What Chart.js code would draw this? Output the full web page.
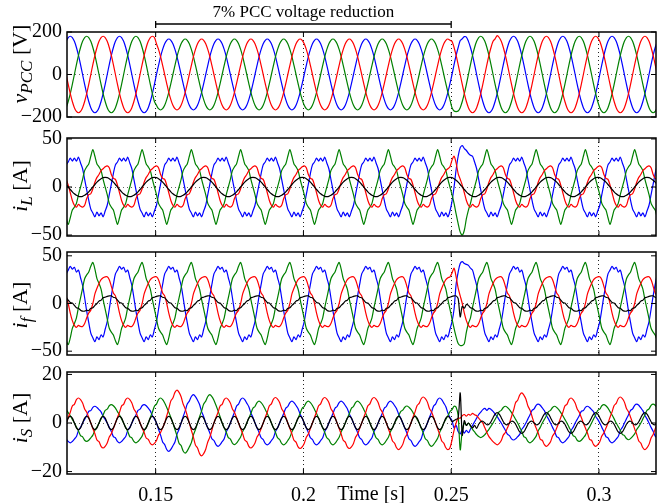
<!DOCTYPE html>
<html>
<head>
<meta charset="utf-8">
<script src="https://cdn.jsdelivr.net/npm/chart.js@4/dist/chart.umd.min.js"></script>
<style>
html, body { margin: 0; padding: 0; background: #fff; }
body { width: 657px; height: 503px; position: relative; overflow: hidden;
       font-family: 'Liberation Serif', 'Times New Roman', serif; color: #000; }
.panel { position: absolute; left: 0; width: 657px; }
.ylab { position: absolute; font-size: 22px; white-space: nowrap;
        transform: translate(-50%, -50%) rotate(-90deg); }
.ylab sub { font-size: 17px; font-style: italic; vertical-align: -5px; }
.xlab { position: absolute; font-size: 20px; white-space: nowrap; transform: translate(-50%, -50%); }
</style>
</head>
<body>
<div class="panel" style="top:0px;height:131px"><canvas id="p1"></canvas></div>
<div class="panel" style="top:124px;height:126px"><canvas id="p2"></canvas></div>
<div class="panel" style="top:238px;height:131px"><canvas id="p3"></canvas></div>
<div class="panel" style="top:358px;height:145px"><canvas id="p4"></canvas></div>

<div class="ylab" style="left:22px;top:64px"><i>v</i><sub>PCC</sub> [V]</div>
<div class="ylab" style="left:22px;top:186px"><i>i</i><sub>L</sub> [A]</div>
<div class="ylab" style="left:22px;top:305px"><i>i</i><sub>f</sub> [A]</div>
<div class="ylab" style="left:22px;top:418px"><i>i</i><sub>S</sub> [A]</div>
<div class="xlab" style="left:371px;top:493px">Time [s]</div>

<script>
// sampling of the traces: 24 samples per 60 Hz cycle
const SAMPLE_RATE = 1440;
const T_START = 0.11972;

// PCC voltages [V] (blue, green, red)
const vpccA = [
156,174,180,174,156,127,90,47,0,-47,-90,-127,-156,-174,-180,-174,-156,-127,-90,-47,0,47,90,127,
156,174,180,174,156,127,90,47,0,-47,-90,-127,-156,-174,-180,-174,-156,-127,-90,-47,0,43,84,118,
145,161,167,161,145,118,84,43,0,-43,-84,-118,-145,-161,-167,-161,-145,-118,-84,-43,0,43,84,118,
145,161,167,161,145,118,84,43,0,-43,-84,-118,-145,-161,-167,-161,-145,-118,-84,-43,0,43,84,118,
145,161,167,161,145,118,84,43,0,-43,-84,-118,-145,-161,-167,-161,-145,-118,-84,-43,0,43,84,118,
145,161,167,161,145,118,84,43,0,-43,-84,-118,-145,-161,-167,-161,-145,-118,-84,-43,0,43,84,118,
145,161,167,161,145,118,84,43,0,-43,-84,-118,-145,-161,-167,-161,-145,-118,-84,-43,0,43,84,118,
145,161,167,161,145,118,84,43,0,-43,-84,-118,-145,-161,-167,-161,-145,-118,-84,-43,0,47,90,127,
160,168,178,176,156,127,90,47,0,-47,-90,-127,-156,-174,-180,-174,-156,-127,-90,-47,0,47,90,127,
156,174,180,174,156,127,90,47,0,-47,-90,-127,-156,-174,-180,-174,-156,-127,-90,-47,0,47,90,127,
156,174,180,174,156,127,90,47,0,-47,-90,-127,-156,-174,-180,-174,-156,-127,-90,-47,0,47,90,127,
156,174,180,174,156,127,90,47,0,-47,-90,-127,-156,-174,-180,-174,-156,-127,-90,-47,0,47,90,127,
156];
const vpccB = [
-156,-127,-90,-47,0,47,90,127,156,174,180,174,156,127,90,47,0,-47,-90,-127,-156,-174,-180,-174,
-156,-127,-90,-47,0,47,90,127,156,174,180,174,156,127,90,47,0,-47,-90,-127,-145,-161,-167,-161,
-145,-118,-84,-43,0,43,84,118,145,161,167,161,145,118,84,43,0,-43,-84,-118,-145,-161,-167,-161,
-145,-118,-84,-43,0,43,84,118,145,161,167,161,145,118,84,43,0,-43,-84,-118,-145,-161,-167,-161,
-145,-118,-84,-43,0,43,84,118,145,161,167,161,145,118,84,43,0,-43,-84,-118,-145,-161,-167,-161,
-145,-118,-84,-43,0,43,84,118,145,161,167,161,145,118,84,43,0,-43,-84,-118,-145,-161,-167,-161,
-145,-118,-84,-43,0,43,84,118,145,161,167,161,145,118,84,43,0,-43,-84,-118,-145,-161,-167,-161,
-145,-118,-84,-43,0,43,84,118,145,161,167,161,145,118,84,43,0,-43,-84,-118,-156,-172,-175,-172,
-156,-127,-90,-47,0,47,90,127,156,174,180,174,156,127,90,47,0,-47,-90,-127,-156,-174,-180,-174,
-156,-127,-90,-47,0,47,90,127,156,174,180,174,156,127,90,47,0,-47,-90,-127,-156,-174,-180,-174,
-156,-127,-90,-47,0,47,90,127,156,174,180,174,156,127,90,47,0,-47,-90,-127,-156,-174,-180,-174,
-156,-127,-90,-47,0,47,90,127,156,174,180,174,156,127,90,47,0,-47,-90,-127,-156,-174,-180,-174,
-156];
const vpccC = [
0,-47,-90,-127,-156,-174,-180,-174,-156,-127,-90,-47,0,47,90,127,156,174,180,174,156,127,90,47,
0,-47,-90,-127,-156,-174,-180,-174,-156,-127,-90,-47,0,47,90,127,156,174,180,174,145,118,84,43,
0,-43,-84,-118,-145,-161,-167,-161,-145,-118,-84,-43,0,43,84,118,145,161,167,161,145,118,84,43,
0,-43,-84,-118,-145,-161,-167,-161,-145,-118,-84,-43,0,43,84,118,145,161,167,161,145,118,84,43,
0,-43,-84,-118,-145,-161,-167,-161,-145,-118,-84,-43,0,43,84,118,145,161,167,161,145,118,84,43,
0,-43,-84,-118,-145,-161,-167,-161,-145,-118,-84,-43,0,43,84,118,145,161,167,161,145,118,84,43,
0,-43,-84,-118,-145,-161,-167,-161,-145,-118,-84,-43,0,43,84,118,145,161,167,161,145,118,84,43,
0,-43,-84,-118,-145,-161,-167,-161,-145,-118,-84,-43,0,43,84,118,145,161,167,161,156,127,90,47,
0,-47,-90,-127,-156,-174,-180,-174,-156,-127,-90,-47,0,47,90,127,156,168,183,174,156,127,90,47,
0,-47,-90,-127,-156,-174,-180,-174,-156,-127,-90,-47,0,47,90,127,156,174,180,174,156,127,90,47,
0,-47,-90,-127,-156,-174,-180,-174,-156,-127,-90,-47,0,47,90,127,156,174,180,174,156,127,90,47,
0,-47,-90,-127,-156,-174,-180,-174,-156,-127,-90,-47,0,47,90,127,156,174,180,174,156,127,90,47,
0];

// load currents [A] (blue, green, red, black)
const iLoadA = [
23,26,30,27,30,27,31,25,19,8,-3,-14,-23,-27,-31,-26,-30,-27,-31,-25,-19,-8,3,14,
23,26,30,27,30,27,31,25,19,8,-3,-14,-23,-27,-31,-26,-30,-27,-31,-25,-19,-8,3,14,
23,26,30,27,30,27,31,25,19,8,-3,-14,-23,-27,-31,-26,-30,-27,-31,-25,-19,-8,3,14,
23,26,30,27,30,27,31,25,19,8,-3,-14,-23,-27,-31,-26,-30,-27,-31,-25,-19,-8,3,14,
23,26,30,27,30,27,31,25,19,8,-3,-14,-23,-27,-31,-26,-30,-27,-31,-25,-19,-8,3,14,
23,26,30,27,30,27,31,25,19,8,-3,-14,-23,-27,-31,-26,-30,-27,-31,-25,-19,-8,3,14,
23,26,30,27,30,27,31,25,19,8,-3,-14,-23,-27,-31,-26,-30,-27,-31,-25,-19,-8,3,14,
23,26,30,27,30,27,31,25,19,8,-3,-14,-23,-27,-31,-26,-30,-27,-31,-25,-15,0,18,32,
41,43,40,38,35,33,32,26,19,8,-3,-14,-23,-27,-31,-26,-30,-27,-31,-25,-19,-8,3,14,
23,26,30,27,30,27,31,25,19,8,-3,-14,-23,-27,-31,-26,-30,-27,-31,-25,-19,-8,3,14,
23,26,30,27,30,27,31,25,19,8,-3,-14,-23,-27,-31,-26,-30,-27,-31,-25,-19,-8,3,14,
23,26,30,27,30,27,31,25,19,8,-3,-14,-23,-27,-31,-26,-30,-27,-31,-25,-19,-8,3,14,
23];
const iLoadB = [
-32,-39,-32,-24,-21,-17,-8,0,8,17,21,24,32,39,32,24,21,17,8,0,-8,-17,-21,-24,
-32,-39,-32,-24,-21,-17,-8,0,8,17,21,24,32,39,32,24,21,17,8,0,-8,-17,-21,-24,
-32,-39,-32,-24,-21,-17,-8,0,8,17,21,24,32,39,32,24,21,17,8,0,-8,-17,-21,-24,
-32,-39,-32,-24,-21,-17,-8,0,8,17,21,24,32,39,32,24,21,17,8,0,-8,-17,-21,-24,
-32,-39,-32,-24,-21,-17,-8,0,8,17,21,24,32,39,32,24,21,17,8,0,-8,-17,-21,-24,
-32,-39,-32,-24,-21,-17,-8,0,8,17,21,24,32,39,32,24,21,17,8,0,-8,-17,-21,-24,
-32,-39,-32,-24,-21,-17,-8,0,8,17,21,24,32,39,32,24,21,17,8,0,-8,-17,-21,-24,
-32,-39,-32,-24,-21,-17,-8,0,8,17,21,24,32,39,32,24,21,17,8,0,-8,-17,-28,-38,
-47,-50,-45,-33,-24,-17,-8,0,8,17,21,24,32,39,32,24,21,17,8,0,-8,-17,-21,-24,
-32,-39,-32,-24,-21,-17,-8,0,8,17,21,24,32,39,32,24,21,17,8,0,-8,-17,-21,-24,
-32,-39,-32,-24,-21,-17,-8,0,8,17,21,24,32,39,32,24,21,17,8,0,-8,-17,-21,-24,
-32,-39,-32,-24,-21,-17,-8,0,8,17,21,24,32,39,32,24,21,17,8,0,-8,-17,-21,-24,
-32];
const iLoadC = [
8,2,-6,-14,-19,-21,-18,-20,-21,-19,-12,-8,-7,-2,5,10,13,17,19,21,22,20,13,9,
8,2,-6,-14,-19,-21,-18,-20,-21,-19,-12,-8,-7,-2,5,10,13,17,19,21,22,20,13,9,
8,2,-6,-14,-19,-21,-18,-20,-21,-19,-12,-8,-7,-2,5,10,13,17,19,21,22,20,13,9,
8,2,-6,-14,-19,-21,-18,-20,-21,-19,-12,-8,-7,-2,5,10,13,17,19,21,22,20,13,9,
8,2,-6,-14,-19,-21,-18,-20,-21,-19,-12,-8,-7,-2,5,10,13,17,19,21,22,20,13,9,
8,2,-6,-14,-19,-21,-18,-20,-21,-19,-12,-8,-7,-2,5,10,13,17,19,21,22,20,13,9,
8,2,-6,-14,-19,-21,-18,-20,-21,-19,-12,-8,-7,-2,5,10,13,17,19,21,22,20,13,9,
8,2,-6,-14,-19,-21,-18,-20,-21,-19,-12,-8,-7,-2,5,10,13,17,19,21,28,32,25,14,
8,2,-6,-14,-19,-21,-18,-20,-21,-19,-12,-8,-7,-2,5,10,13,17,19,21,22,20,13,9,
8,2,-6,-14,-19,-21,-18,-20,-21,-19,-12,-8,-7,-2,5,10,13,17,19,21,22,20,13,9,
8,2,-6,-14,-19,-21,-18,-20,-21,-19,-12,-8,-7,-2,5,10,13,17,19,21,22,20,13,9,
8,2,-6,-14,-19,-21,-18,-20,-21,-19,-12,-8,-7,-2,5,10,13,17,19,21,22,20,13,9,
8];
const iLoadN = [
2.6,0,-2.6,-5,-7.1,-8.7,-9.7,-10,-9.7,-8.7,-7.1,-5,-2.6,0,2.6,5,7.1,8.7,9.7,10,9.7,8.7,7.1,5,
2.6,0,-2.6,-5,-7.1,-8.7,-9.7,-10,-9.7,-8.7,-7.1,-5,-2.6,0,2.6,5,7.1,8.7,9.7,10,9.7,8.7,7.1,5,
2.6,0,-2.6,-5,-7.1,-8.7,-9.7,-10,-9.7,-8.7,-7.1,-5,-2.6,0,2.6,5,7.1,8.7,9.7,10,9.7,8.7,7.1,5,
2.6,0,-2.6,-5,-7.1,-8.7,-9.7,-10,-9.7,-8.7,-7.1,-5,-2.6,0,2.6,5,7.1,8.7,9.7,10,9.7,8.7,7.1,5,
2.6,0,-2.6,-5,-7.1,-8.7,-9.7,-10,-9.7,-8.7,-7.1,-5,-2.6,0,2.6,5,7.1,8.7,9.7,10,9.7,8.7,7.1,5,
2.6,0,-2.6,-5,-7.1,-8.7,-9.7,-10,-9.7,-8.7,-7.1,-5,-2.6,0,2.6,5,7.1,8.7,9.7,10,9.7,8.7,7.1,5,
2.6,0,-2.6,-5,-7.1,-8.7,-9.7,-10,-9.7,-8.7,-7.1,-5,-2.6,0,2.6,5,7.1,8.7,9.7,10,9.7,8.7,7.1,5,
2.6,0,-2.6,-5,-7.1,-8.7,-9.7,-10,-9.7,-8.7,-7.1,-5,-2.6,0,2.6,5,7.1,8.7,9.7,10,9.7,8.7,7.1,5,
2.6,0,-2.6,-5,-7.1,-8.7,-9.7,-10,-9.7,-8.7,-7.1,-5,-2.6,0,2.6,5,7.1,8.7,9.7,10,9.7,8.7,7.1,5,
2.6,0,-2.6,-5,-7.1,-8.7,-9.7,-10,-9.7,-8.7,-7.1,-5,-2.6,0,2.6,5,7.1,8.7,9.7,10,9.7,8.7,7.1,5,
2.6,0,-2.6,-5,-7.1,-8.7,-9.7,-10,-9.7,-8.7,-7.1,-5,-2.6,0,2.6,5,7.1,8.7,9.7,10,9.7,8.7,7.1,5,
2.6,0,-2.6,-5,-7.1,-8.7,-9.7,-10,-9.7,-8.7,-7.1,-5,-2.6,0,2.6,5,7.1,8.7,9.7,10,9.7,8.7,7.1,5,
2.6];

// filter currents [A]
const iFiltA = [
31,35,39,36,38,33,35,27,19,6,-8,-20,-31,-36,-40,-35,-38,-33,-35,-27,-19,-6,8,20,
31,35,39,36,38,33,35,27,19,6,-8,-20,-31,-36,-40,-35,-38,-33,-35,-27,-19,-6,8,20,
31,35,39,36,38,33,35,27,19,6,-8,-20,-31,-36,-40,-35,-38,-33,-35,-27,-19,-6,8,20,
31,35,39,36,38,33,35,27,19,6,-8,-20,-31,-36,-40,-35,-38,-33,-35,-27,-19,-6,8,20,
31,35,39,36,38,33,35,27,19,6,-8,-20,-31,-36,-40,-35,-38,-33,-35,-27,-19,-6,8,20,
31,35,39,36,38,33,35,27,19,6,-8,-20,-31,-36,-40,-35,-38,-33,-35,-27,-19,-6,8,20,
31,35,39,36,38,33,35,27,19,6,-8,-20,-31,-36,-40,-35,-38,-33,-35,-27,-19,-6,8,20,
31,35,39,36,38,33,35,27,19,6,-8,-20,-31,-36,-40,-35,-38,-33,-35,-27,-19,-6,20,33,
42,44,42,41,40,37,35,27,19,6,-8,-20,-31,-36,-40,-35,-38,-33,-35,-27,-19,-6,8,20,
31,35,39,36,38,33,35,27,19,6,-8,-20,-31,-36,-40,-35,-38,-33,-35,-27,-19,-6,8,20,
31,35,39,36,38,33,35,27,19,6,-8,-20,-31,-36,-40,-35,-38,-33,-35,-27,-19,-6,8,20,
31,35,39,36,38,33,35,27,19,6,-8,-20,-31,-36,-40,-35,-38,-33,-35,-27,-19,-6,8,20,
31];
const iFiltB = [
-39,-43,-36,-26,-21,-15,-4,6,16,26,30,33,39,43,36,26,21,15,4,-6,-16,-26,-30,-33,
-39,-43,-36,-26,-21,-15,-4,6,16,26,30,33,39,43,36,26,21,15,4,-6,-16,-26,-30,-33,
-39,-43,-36,-26,-21,-15,-4,6,16,26,30,33,39,43,36,26,21,15,4,-6,-16,-26,-30,-33,
-39,-43,-36,-26,-21,-15,-4,6,16,26,30,33,39,43,36,26,21,15,4,-6,-16,-26,-30,-33,
-39,-43,-36,-26,-21,-15,-4,6,16,26,30,33,39,43,36,26,21,15,4,-6,-16,-26,-30,-33,
-39,-43,-36,-26,-21,-15,-4,6,16,26,30,33,39,43,36,26,21,15,4,-6,-16,-26,-30,-33,
-39,-43,-36,-26,-21,-15,-4,6,16,26,30,33,39,43,36,26,21,15,4,-6,-16,-26,-30,-33,
-39,-43,-36,-26,-21,-15,-4,6,16,26,30,33,39,43,36,26,21,15,4,-6,-16,-26,-35,-42,
-44,-44,-42,-30,-21,-15,-4,6,16,26,30,33,39,43,36,26,21,15,4,-6,-16,-26,-30,-33,
-39,-43,-36,-26,-21,-15,-4,6,16,26,30,33,39,43,36,26,21,15,4,-6,-16,-26,-30,-33,
-39,-43,-36,-26,-21,-15,-4,6,16,26,30,33,39,43,36,26,21,15,4,-6,-16,-26,-30,-33,
-39,-43,-36,-26,-21,-15,-4,6,16,26,30,33,39,43,36,26,21,15,4,-6,-16,-26,-30,-33,
-39];
const iFiltC = [
8,0,-10,-18,-23,-25,-23,-24,-24,-21,-15,-10,-7,0,10,16,21,25,27,28,28,25,18,11,
8,0,-10,-18,-23,-25,-23,-24,-24,-21,-15,-10,-7,0,10,16,21,25,27,28,28,25,18,11,
8,0,-10,-18,-23,-25,-23,-24,-24,-21,-15,-10,-7,0,10,16,21,25,27,28,28,25,18,11,
8,0,-10,-18,-23,-25,-23,-24,-24,-21,-15,-10,-7,0,10,16,21,25,27,28,28,25,18,11,
8,0,-10,-18,-23,-25,-23,-24,-24,-21,-15,-10,-7,0,10,16,21,25,27,28,28,25,18,11,
8,0,-10,-18,-23,-25,-23,-24,-24,-21,-15,-10,-7,0,10,16,21,25,27,28,28,25,18,11,
8,0,-10,-18,-23,-25,-23,-24,-24,-21,-15,-10,-7,0,10,16,21,25,27,28,28,25,18,11,
8,0,-10,-18,-23,-25,-23,-24,-24,-21,-15,-10,-7,0,10,16,21,25,27,28,32,37,28,16,
8,0,-10,-18,-23,-25,-23,-24,-24,-21,-15,-10,-7,0,10,16,21,25,27,28,28,25,18,11,
8,0,-10,-18,-23,-25,-23,-24,-24,-21,-15,-10,-7,0,10,16,21,25,27,28,28,25,18,11,
8,0,-10,-18,-23,-25,-23,-24,-24,-21,-15,-10,-7,0,10,16,21,25,27,28,28,25,18,11,
8,0,-10,-18,-23,-25,-23,-24,-24,-21,-15,-10,-7,0,10,16,21,25,27,28,28,25,18,11,
8];
const iFiltN = [
6,3.5,1,0.5,-2,-4.5,-5,-7,-8,-8,-7,-7.5,-5,-4.5,-2,0,2.5,3.5,6,6.5,7.5,8,8,6.5,
6,3.5,1,0.5,-2,-4.5,-5,-7,-8,-8,-7,-7.5,-5,-4.5,-2,0,2.5,3.5,6,6.5,7.5,8,8,6.5,
6,3.5,1,0.5,-2,-4.5,-5,-7,-8,-8,-7,-7.5,-5,-4.5,-2,0,2.5,3.5,6,6.5,7.5,8,8,6.5,
6,3.5,1,0.5,-2,-4.5,-5,-7,-8,-8,-7,-7.5,-5,-4.5,-2,0,2.5,3.5,6,6.5,7.5,8,8,6.5,
6,3.5,1,0.5,-2,-4.5,-5,-7,-8,-8,-7,-7.5,-5,-4.5,-2,0,2.5,3.5,6,6.5,7.5,8,8,6.5,
6,3.5,1,0.5,-2,-4.5,-5,-7,-8,-8,-7,-7.5,-5,-4.5,-2,0,2.5,3.5,6,6.5,7.5,8,8,6.5,
6,3.5,1,0.5,-2,-4.5,-5,-7,-8,-8,-7,-7.5,-5,-4.5,-2,0,2.5,3.5,6,6.5,7.5,8,8,6.5,
6,3.5,1,0.5,-2,-4.5,-5,-7,-8,-8,-7,-7.5,-5,-4.5,-2,0,2.5,3.5,6,6.5,7.5,8,8,5,
-14,-3,-5,-1,-2,-4.5,-5,-7,-8,-8,-7,-7.5,-5,-4.5,-2,0,2.5,3.5,6,6.5,7.5,8,8,6.5,
6,3.5,1,0.5,-2,-4.5,-5,-7,-8,-8,-7,-7.5,-5,-4.5,-2,0,2.5,3.5,6,6.5,7.5,8,8,6.5,
6,3.5,1,0.5,-2,-4.5,-5,-7,-8,-8,-7,-7.5,-5,-4.5,-2,0,2.5,3.5,6,6.5,7.5,8,8,6.5,
6,3.5,1,0.5,-2,-4.5,-5,-7,-8,-8,-7,-7.5,-5,-4.5,-2,0,2.5,3.5,6,6.5,7.5,8,8,6.5,
6];

// source currents [A]
const iSrcA = [
-6.6,-7.6,-8.2,-7.6,-6.6,-5.6,-3.1,-1.8,0,1.5,3,4.8,5.1,6.4,6.9,6.4,5.5,4.6,2.7,1.5,0,-1.8,-3.5,-5.6,
-6.1,-7.6,-8.2,-7.6,-6.6,-5.6,-3.1,-1.8,0,1.7,3.3,5.2,5.7,7.1,7.6,7.1,6.1,5,3,1.7,0,-2.6,-5,-7.8,
-8.9,-10.9,-11.7,-10.9,-9.4,-7.8,-4.6,-2.6,0,2.6,5,7.8,9,10.9,11.7,10.9,9.4,7.6,4.7,2.6,0,-2.1,-4.1,-6.5,
-7.2,-8.9,-9.6,-8.9,-7.7,-6.5,-3.7,-2.1,0,2.3,4.4,6.9,7.8,9.6,10.3,9.6,8.2,6.7,4.1,2.3,0,-2,-3.9,-6.1,
-6.8,-8.4,-9,-8.4,-7.2,-6.1,-3.5,-2,0,2,3.9,6.1,6.8,8.4,9,8.4,7.2,5.9,3.6,2,0,-2,-3.9,-6.1,
-6.8,-8.4,-9,-8.4,-7.2,-6.1,-3.5,-2,0,2,3.9,6.1,6.8,8.4,9,8.4,7.2,5.9,3.6,2,0,-2,-3.9,-6.1,
-6.8,-8.4,-9,-8.4,-7.2,-6.1,-3.5,-2,0,2,3.9,6.1,6.8,8.4,9,8.4,7.2,5.9,3.6,2,0,-2.1,-4.1,-6.5,
-7.2,-8.9,-9.6,-8.9,-7.7,-6.5,-3.7,-2.1,0,2.3,4.4,6.9,7.8,9.6,10.3,9.6,8.2,6.7,4.1,2.3,1,-2,-1,-3.5,
-4.5,-2.8,-4.2,-3,-4,-2.5,-1,0.5,2,3.5,4.5,5.5,6,5.2,6,5.6,4.8,3.7,2.6,1.3,0,-1.5,-3,-4.6,
-5.2,-6.5,-7,-6.5,-5.6,-4.7,-2.6,-1.5,0,1.7,3.4,5.2,5.8,7.3,7.8,7.3,6.2,5.1,3.1,1.7,0,-1.8,-3.5,-5.6,
-6.1,-7.6,-8.2,-7.6,-6.6,-5.6,-3.1,-1.8,0,1.5,3,4.8,5.1,6.4,6.9,6.4,5.5,4.6,2.7,1.5,0,-1.8,-3.5,-5.6,
-6.1,-7.6,-8.2,-7.6,-6.6,-5.6,-3.1,-1.8,0,1.7,3.4,5.2,5.8,7.3,7.8,7.3,6.2,5.1,3.1,1.7,0,-1.8,-3.4,-5.4,
-6.1];
const iSrcB = [
5.6,4.3,3,1.5,0,-1.7,-3.3,-5.2,-5.7,-7.1,-7.6,-7.1,-6.1,-5,-3,-1.7,0,1.7,3.3,5.2,5.7,7.1,7.6,7.1,
6.1,4.7,3.3,1.7,0,-1.8,-3.5,-5.6,-6.1,-7.6,-8.2,-7.6,-6.6,-5.4,-3.2,-1.8,0,2.3,4.4,6.9,7.8,9.6,10.3,9.6,
8.2,6.4,4.4,2.3,0,-2.7,-5.3,-8.3,-9.3,-11.5,-12.4,-11.5,-9.9,-8.1,-4.9,-2.7,0,2.6,5,7.8,9,10.9,11.7,10.9,
9.4,7.3,5,2.6,0,-2,-3.8,-6,-6.6,-8.3,-8.9,-8.3,-7.1,-5.8,-3.5,-2,0,2,3.9,6.1,6.8,8.4,9,8.4,
7.2,5.6,3.9,2,0,-2,-3.9,-6.1,-6.8,-8.4,-9,-8.4,-7.2,-5.9,-3.6,-2,0,2,3.9,6.1,6.8,8.4,9,8.4,
7.2,5.6,3.9,2,0,-2,-3.9,-6.1,-6.8,-8.4,-9,-8.4,-7.2,-5.9,-3.6,-2,0,2,3.9,6.1,6.8,8.4,9,8.4,
7.2,5.6,3.9,2,0,-2,-3.9,-6.1,-6.8,-8.4,-9,-8.4,-7.2,-5.9,-3.6,-2,0,1.5,3,4.7,5.3,6.5,7,6.5,
5.6,4.3,3,1.5,0,-2.1,-4.1,-6.5,-7.2,-8.9,-9.6,-8.9,-7.7,-6.3,-3.8,-2.1,0,1.5,3,4.7,5.5,6.9,6.5,3,
-11,-3,0,-1,0,-1.3,-2.6,-3.7,-4.8,-5.6,-6,-5.6,-4.8,-3.7,-2.6,-1.3,0,1.5,3,4.7,5.2,6.4,6.9,6.4,
5.5,4.3,3,1.5,0,-1.8,-3.5,-5.6,-6.1,-7.6,-8.2,-7.6,-6.6,-5.4,-3.2,-1.8,0,1.5,3,4.7,5.2,6.4,6.9,6.4,
5.5,4.3,3,1.5,0,-1.7,-3.3,-5.2,-5.7,-7.1,-7.6,-7.1,-6.1,-5,-3,-1.7,0,1.7,3.3,5.2,5.7,7.1,7.6,7.1,
6.1,4.7,3.3,1.7,0,-1.5,-3,-4.7,-5.2,-6.4,-6.9,-6.4,-5.5,-4.5,-2.7,-1.5,0,1.7,3.4,5.2,5.8,7.3,7.8,7.3,
6.2];
const iSrcC = [
0,2.3,4.4,7,7.7,9.6,10.3,9.6,8.2,5.8,4.4,2.3,0,-2.3,-4.4,-7,-7.7,-9.6,-10.3,-9.6,-8.2,-5.8,-4.4,-2.3,
0,2.3,4.4,7,7.7,9.6,10.3,9.6,8.2,5.8,4.4,2.3,0,-2,-3.9,-6.2,-6.7,-8.4,-9,-8.4,-7.2,-5,-3.9,-2,
0,3,5.8,9.1,10.3,12.6,13.5,12.6,10.8,7.8,5.8,3,0,-3,-5.8,-9.1,-10.3,-12.6,-13.5,-12.6,-10.8,-7.8,-5.8,-3,
0,2.3,4.4,7,7.7,9.6,10.3,9.6,8.2,5.8,4.4,2.3,0,-2.3,-4.4,-7,-7.7,-9.6,-10.3,-9.6,-8.2,-5.8,-4.4,-2.3,
0,2.3,4.5,7.1,7.9,9.8,10.5,9.8,8.4,5.9,4.5,2.3,0,-2.3,-4.5,-7.1,-7.9,-9.8,-10.5,-9.8,-8.4,-5.9,-4.5,-2.3,
0,2.3,4.5,7.1,7.9,9.8,10.5,9.8,8.4,5.9,4.5,2.3,0,-2.3,-4.5,-7.1,-7.9,-9.8,-10.5,-9.8,-8.4,-5.9,-4.5,-2.3,
0,2.3,4.5,7.1,7.9,9.8,10.5,9.8,8.4,5.9,4.5,2.3,0,-2.4,-4.7,-7.4,-8.3,-10.2,-11,-10.2,-8.8,-6.2,-4.7,-2.4,
0,2.4,4.6,7.2,8.1,10,10.7,10,8.6,6,4.6,2.4,0,-2.4,-4.7,-7.4,-8.3,-10.2,-11,-10.2,-7,-3,0,2,
2,3,3.5,2.8,3.6,3.2,4,3.4,3,2,1,0,-2,-3.9,-5.6,-6.7,-7.7,-8.4,-9,-8.4,-7.2,-5,-3.9,-2,
0,2.7,5.3,8.4,9.4,11.5,12.4,11.5,9.9,7,5.3,2.7,0,-2.1,-4.1,-6.7,-7.2,-8.9,-9.6,-8.9,-7.7,-5.4,-4.1,-2.1,
0,2.3,4.4,7,7.7,9.6,10.3,9.6,8.2,5.8,4.4,2.3,0,-2.1,-4.1,-6.7,-7.2,-8.9,-9.6,-8.9,-7.7,-5.4,-4.1,-2.1,
0,2.4,4.6,7.2,8.1,10,10.7,10,8.6,6,4.6,2.4,0,-2.4,-4.7,-7.4,-8.3,-10.2,-11,-10.2,-8.8,-6.2,-4.7,-2.4,
0];
const iSrcN = [
0,2,2.7,2,0,-2,-2.7,-2,0,2,2.7,2,0,-2,-2.7,-2,0,2,2.7,2,0,-2,-2.7,-2,
0,2,2.7,2,0,-2,-2.7,-2,0,2,2.7,2,0,-2,-2.7,-2,0,2,2.7,2,0,-2,-2.7,-2,
0,2,2.7,2,0,-2,-2.7,-2,0,2,2.7,2,0,-2,-2.7,-2,0,2,2.7,2,0,-2,-2.7,-2,
0,2,2.7,2,0,-2,-2.7,-2,0,2,2.7,2,0,-2,-2.7,-2,0,2,2.7,2,0,-2,-2.7,-2,
0,2,2.7,2,0,-2,-2.7,-2,0,2,2.7,2,0,-2,-2.7,-2,0,2,2.7,2,0,-2,-2.7,-2,
0,2,2.7,2,0,-2,-2.7,-2,0,2,2.7,2,0,-2,-2.7,-2,0,2,2.7,2,0,-2,-2.7,-2,
0,2,2.7,2,0,-2,-2.7,-2,0,2,2.7,2,0,-2,-2.7,-2,0,2,2.7,2,0,-2,-2.7,-2,
0,2,2.7,2,0,-2,-2.7,-2,0,2,2.7,2,0,-2,-2.7,-2,0,2,2.7,2,0.5,1,1.5,2,
12.4,-5,1,-1,0,-1,-2,-1,-2.2,-0.5,0.55,0.7,0,-0.7,-0.55,0.5,2.2,3.7,4.3,3.7,2.2,0.5,-0.55,-0.7,
0,0.7,0.55,-0.5,-2.2,-3.7,-4.3,-3.7,-2.2,-0.5,0.55,0.7,0,-0.7,-0.55,0.5,2.2,3.7,4.3,3.7,2.2,0.5,-0.55,-0.7,
0,0.7,0.55,-0.5,-2.2,-3.7,-4.3,-3.7,-2.2,-0.5,0.55,0.7,0,-0.7,-0.55,0.5,2.2,3.7,4.3,3.7,2.2,0.5,-0.55,-0.7,
0,0.7,0.55,-0.5,-2.2,-3.7,-4.3,-3.7,-2.2,-0.5,0.55,0.7,0,-0.7,-0.55,0.5,2.2,3.7,4.3,3.7,2.2,0.5,-0.55,-0.7,
0];

// sample times [s]
const time = vpccA.map((_, k) => T_START + k / SAMPLE_RATE);

// axes
const xTicks = [0.15, 0.2, 0.25, 0.3];
const xRange = [0.12, 0.3193];
const vTicks = [-200, 0, 200];
const iLTicks = [-50, 0, 50];
const ifTicks = [-50, 0, 50];
const iSTicks = [-20, 0, 20];
const reductionSpan = [0.15, 0.25];
const reductionLabel = '7% PCC voltage reduction';

const FONT = "'Liberation Serif', 'Times New Roman', serif";
const BLUE = '#0000ff', GREEN = '#008000', RED = '#ff0000', BLACK = '#000000';

Chart.defaults.font.family = FONT;
Chart.defaults.color = '#000';

// box around each plot with inward tick marks, like the original figure
const framePlugin = {
  id: 'frame',
  afterDraw(chart) {
    const { ctx, chartArea: a, scales } = chart;
    ctx.save();
    ctx.strokeStyle = '#000';
    ctx.lineWidth = 1;
    ctx.beginPath();
    scales.x.ticks.forEach(t => {
      const x = scales.x.getPixelForValue(t.value);
      ctx.moveTo(x, a.top); ctx.lineTo(x, a.top + 5);
      ctx.moveTo(x, a.bottom); ctx.lineTo(x, a.bottom - 5);
    });
    scales.y.ticks.forEach(t => {
      const y = scales.y.getPixelForValue(t.value);
      ctx.moveTo(a.left, y); ctx.lineTo(a.left + 5, y);
      ctx.moveTo(a.right, y); ctx.lineTo(a.right - 5, y);
    });
    ctx.stroke();
    ctx.lineWidth = 1.5;
    ctx.strokeRect(a.left, a.top, a.right - a.left, a.bottom - a.top);
    ctx.restore();
  }
};

// bracket + text above the first plot
const reductionPlugin = {
  id: 'reduction',
  afterDraw(chart) {
    const { ctx } = chart;
    const x0 = chart.scales.x.getPixelForValue(reductionSpan[0]);
    const x1 = chart.scales.x.getPixelForValue(reductionSpan[1]);
    const y = 24;
    ctx.save();
    ctx.strokeStyle = '#000';
    ctx.lineWidth = 1.3;
    ctx.beginPath();
    ctx.moveTo(x0, y); ctx.lineTo(x1, y);
    ctx.moveTo(x0, y - 3); ctx.lineTo(x0, y + 4);
    ctx.moveTo(x1, y - 3); ctx.lineTo(x1, y + 4);
    ctx.stroke();
    ctx.fillStyle = '#000';
    ctx.font = '17px ' + FONT;
    ctx.textAlign = 'center';
    ctx.textBaseline = 'middle';
    ctx.fillText(reductionLabel, (x0 + x1) / 2, 13);
    ctx.restore();
  }
};

function fmt(v) {
  return v < 0 ? '\u2212' + Math.abs(v) : String(v);
}

function makePanel(id, series, yTicks, yLim, opt) {
  const datasets = series.map(s => ({
    data: s[0],
    borderColor: s[1],
    borderWidth: 1.2,
    pointRadius: 0,
    tension: 0.3,
    fill: false
  }));
  return new Chart(document.getElementById(id), {
    type: 'line',
    data: { labels: time, datasets: datasets },
    options: {
      responsive: true,
      maintainAspectRatio: false,
      animation: false,
      layout: { padding: { top: opt.padTop, bottom: opt.padBottom, left: 0, right: 1 } },
      plugins: { legend: { display: false }, tooltip: { enabled: false } },
      scales: {
        x: {
          type: 'linear',
          min: xRange[0],
          max: xRange[1],
          afterBuildTicks: s => { s.ticks = xTicks.map(v => ({ value: v })); },
          afterFit: s => {
            s.height = opt.xLabels ? 29 : 0;
            s.paddingLeft = 0; s.paddingRight = 0;
          },
          grid: { color: '#222', lineWidth: 1, drawTicks: false },
          border: { display: false, dash: [1, 3] },
          ticks: {
            display: opt.xLabels,
            padding: 10,
            maxRotation: 0,
            autoSkip: false,
            font: { size: 20 },
            callback: v => String(v)
          }
        },
        y: {
          min: -yLim,
          max: yLim,
          afterBuildTicks: s => { s.ticks = yTicks.map(v => ({ value: v })); },
          afterFit: s => {
            s.width = 67;
            s.paddingTop = 0; s.paddingBottom = 0;
          },
          grid: {
            color: c => (c.tick && c.tick.value === 0 ? '#666' : 'rgba(0,0,0,0)'),
            lineWidth: 1,
            drawTicks: false
          },
          border: { display: false, dash: [1, 3] },
          ticks: { padding: 5, font: { size: 20 }, callback: v => fmt(v) }
        }
      }
    },
    plugins: [framePlugin].concat(opt.extra || [])
  });
}

makePanel('p1', [[vpccC, RED], [vpccB, GREEN], [vpccA, BLUE]], vTicks, 200,
  { padTop: 32, padBottom: 14, xLabels: false, extra: [reductionPlugin] });
makePanel('p2', [[iLoadN, BLACK], [iLoadC, RED], [iLoadB, GREEN], [iLoadA, BLUE]], iLTicks, 51,
  { padTop: 14, padBottom: 14, xLabels: false });
makePanel('p3', [[iFiltN, BLACK], [iFiltC, RED], [iFiltB, GREEN], [iFiltA, BLUE]], ifTicks, 54,
  { padTop: 14, padBottom: 14, xLabels: false });
makePanel('p4', [[iSrcN, BLACK], [iSrcC, RED], [iSrcB, GREEN], [iSrcA, BLUE]], iSTicks, 21,
  { padTop: 14, padBottom: 0, xLabels: true });
</script>
</body>
</html>
